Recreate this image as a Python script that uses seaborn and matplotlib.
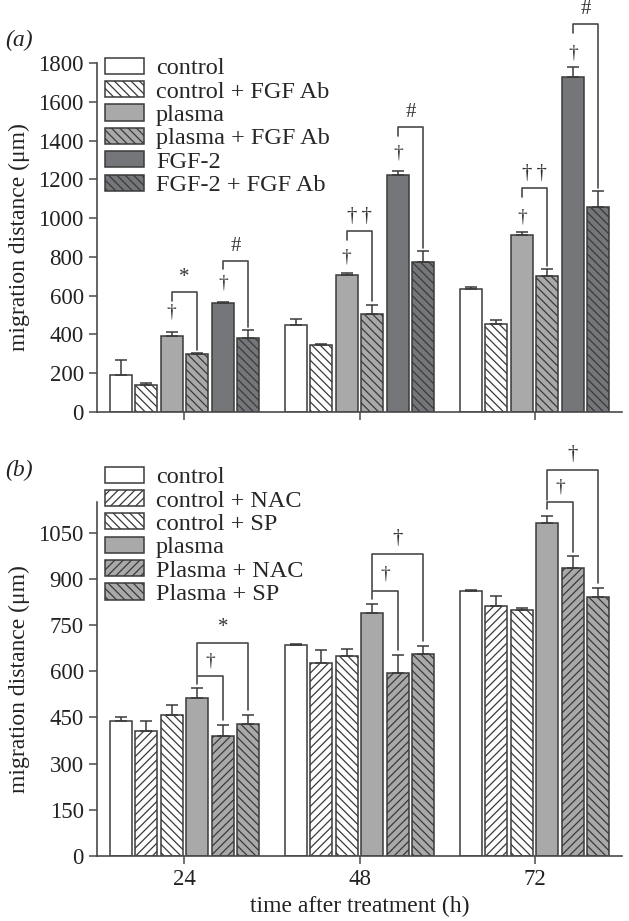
import numpy as np
import pandas as pd
import matplotlib
matplotlib.use('Agg')
import matplotlib.pyplot as plt
from matplotlib.patches import Patch
import seaborn as sns

# 데이터
groups = ['24', '48', '72']

treat_a = ['control', 'control + FGF Ab', 'plasma', 'plasma + FGF Ab', 'FGF-2', 'FGF-2 + FGF Ab']
mean_a = [
    [191, 447, 633],
    [139, 346, 454],
    [393, 705, 913],
    [298, 504, 701],
    [561, 1221, 1729],
    [382, 775, 1057],
]
err_a = [
    [77, 30, 10],
    [12, 5, 20],
    [21, 13, 14],
    [5, 48, 35],
    [4, 24, 52],
    [39, 55, 81],
]

treat_b = ['control', 'control + NAC', 'control + SP', 'plasma', 'Plasma + NAC', 'Plasma + SP']
mean_b = [
    [440, 684, 861],
    [406, 626, 813],
    [458, 649, 799],
    [512, 788, 1080],
    [391, 595, 935],
    [428, 657, 842],
]
err_b = [
    [13, 3, 3],
    [31, 42, 31],
    [33, 22, 8],
    [35, 31, 24],
    [36, 58, 38],
    [30, 25, 30],
]

# 유의성 표시 (a): plasma 대비, FGF-2 대비
a_br1_top = [617, 933, 1154]
a_br1_lab = ['*', '†\u2009†', '†\u2009†']
a_br1_dag = [517, 801, 1007]
a_br2_top = [780, 1471, 2001]
a_br2_lab = ['#', '#', '#']
a_br2_dag = [664, 1334, 1850]

# 유의성 표시 (b): plasma 대비 NAC (inner), SP (outer)
b_in_top = [584, 860, 1151]
b_out_top = [693, 981, 1255]
b_out_lab = ['*', '†', '†']

colors_a = ['white', 'white', '#a9a9a9', '#a9a9a9', '#75767a', '#75767a']
hatch_a = ['', '\\\\\\\\', '', '\\\\\\\\', '', '\\\\\\\\']
colors_b = ['white', 'white', 'white', '#a9a9a9', '#a9a9a9', '#a9a9a9']
hatch_b = ['', '////', '\\\\\\\\', '', '////', '\\\\\\\\']

edge = '#3a3a3a'
line = '#4a4a4a'

sns.set_style('ticks')
plt.rcParams['font.family'] = ['Liberation Serif', 'DejaVu Serif']
plt.rcParams['hatch.linewidth'] = 0.9
plt.rcParams['hatch.color'] = edge

fig = plt.figure(figsize=(6.29, 9.21), dpi=100)
ax_a = fig.add_axes([0.1542, 0.5527, 0.8347, 0.3789])
ax_b = fig.add_axes([0.1542, 0.0706, 0.8347, 0.3844])


def draw_panel(ax, treats, means, errs, colors, hatches):
    rows = []
    for t, m in zip(treats, means):
        for g, v in zip(groups, m):
            rows.append({'time': g, 'treat': t, 'value': v})
    df = pd.DataFrame(rows)
    sns.barplot(data=df, x='time', y='value', hue='treat', hue_order=treats,
                palette=dict(zip(treats, colors)), saturation=1, dodge=True,
                width=0.875, gap=0.15, errorbar=None, edgecolor=edge,
                linewidth=1.1, legend=False, ax=ax)
    xs = []
    for cont, h, e in zip(ax.containers, hatches, errs):
        cx = []
        for p in cont.patches:
            p.set_hatch(h)
            cx.append(p.get_x() + p.get_width() / 2)
        xs.append(cx)
        tops = [p.get_height() for p in cont.patches]
        ax.errorbar(cx, tops, yerr=[np.zeros(len(e)), e], fmt='none',
                    ecolor=edge, elinewidth=1.1, capsize=4.5, capthick=1.1, zorder=3)
    handles = [Patch(facecolor=c, edgecolor=edge, hatch=h, linewidth=1.1)
               for c, h in zip(colors, hatches)]
    return xs, handles


def style_axes(ax, ymax, step):
    ax.set_xlim(-0.5, 2.5)
    ax.set_ylim(0, ymax)
    ax.set_yticks(np.arange(0, ymax + 1, step))
    for s in ['top', 'right']:
        ax.spines[s].set_visible(False)
    for s in ['left', 'bottom']:
        ax.spines[s].set_color(line)
        ax.spines[s].set_linewidth(1.2)
    ax.tick_params(axis='both', colors=line, labelcolor='#222222', labelsize=16.5,
                   length=6, width=1.1, direction='out')
    ax.set_ylabel('migration distance (μm)', fontsize=17, color='#222222', labelpad=6)


def bracket(ax, x1, x2, top, right_bottom, left_drop, lw=1.2):
    ax.plot([x1, x1, x2, x2], [top - left_drop, top, top, right_bottom],
            color=line, lw=lw, clip_on=False, zorder=4)


leg_kw = dict(loc='upper left', frameon=False, fontsize=17.5, handlelength=1.6,
              handleheight=0.65, handletextpad=0.5, labelspacing=0.07,
              borderpad=0, borderaxespad=0)

# (a)
xs_a, h_a = draw_panel(ax_a, treat_a, mean_a, err_a, colors_a, hatch_a)
style_axes(ax_a, 1800, 200)
ax_a.set_xlabel('')
ax_a.set_xticklabels([])
ax_a.legend(h_a, treat_a, bbox_to_anchor=(0.015, 1.015), **leg_kw)

for i in range(3):
    m = [row[i] for row in mean_a]
    e = [row[i] for row in err_a]
    # plasma vs plasma + FGF Ab
    bracket(ax_a, xs_a[2][i], xs_a[3][i], a_br1_top[i], m[3] + e[3] + 18, 45)
    ax_a.text(xs_a[2][i], a_br1_dag[i], '†', ha='center', va='center', fontsize=14,
              color='#333333', clip_on=False)
    ax_a.text((xs_a[2][i] + xs_a[3][i]) / 2, a_br1_top[i] + 25, a_br1_lab[i],
              ha='center', va='bottom', fontsize=15, color='#333333', clip_on=False)
    # FGF-2 vs FGF-2 + FGF Ab
    bracket(ax_a, xs_a[4][i], xs_a[5][i], a_br2_top[i], m[5] + e[5] + 18, 45)
    ax_a.text(xs_a[4][i], a_br2_dag[i], '†', ha='center', va='center', fontsize=14,
              color='#333333', clip_on=False)
    ax_a.text((xs_a[4][i] + xs_a[5][i]) / 2, a_br2_top[i] + 25, a_br2_lab[i],
              ha='center', va='bottom', fontsize=15, color='#333333', clip_on=False)

# (b)
xs_b, h_b = draw_panel(ax_b, treat_b, mean_b, err_b, colors_b, hatch_b)
style_axes(ax_b, 1150, 150)
ax_b.set_xlabel('time after treatment (h)', fontsize=17, color='#222222', labelpad=4)
ax_b.legend(h_b, treat_b, bbox_to_anchor=(0.015, 1.1), **leg_kw)

for i in range(3):
    m = [row[i] for row in mean_b]
    e = [row[i] for row in err_b]
    bracket(ax_b, xs_b[3][i], xs_b[5][i], b_out_top[i], m[5] + e[5] + 15, b_out_top[i] - b_in_top[i] - 5)
    bracket(ax_b, xs_b[3][i], xs_b[4][i], b_in_top[i], m[4] + e[4] + 15, 25)
    ax_b.text((xs_b[3][i] + xs_b[4][i]) / 2, (b_in_top[i] + b_out_top[i]) / 2 - 5, '†',
              ha='center', va='center', fontsize=14, color='#333333', clip_on=False)
    ax_b.text((xs_b[3][i] + xs_b[5][i]) / 2, b_out_top[i] + 18, b_out_lab[i],
              ha='center', va='bottom', fontsize=15, color='#333333', clip_on=False)

fig.text(5 / 629, 1 - 40 / 921, '(a)', fontsize=17, style='italic', color='#222222', va='center')
fig.text(5 / 629, 1 - 470 / 921, '(b)', fontsize=17, style='italic', color='#222222', va='center')

fig.savefig('out.png', dpi=100, facecolor='white')
